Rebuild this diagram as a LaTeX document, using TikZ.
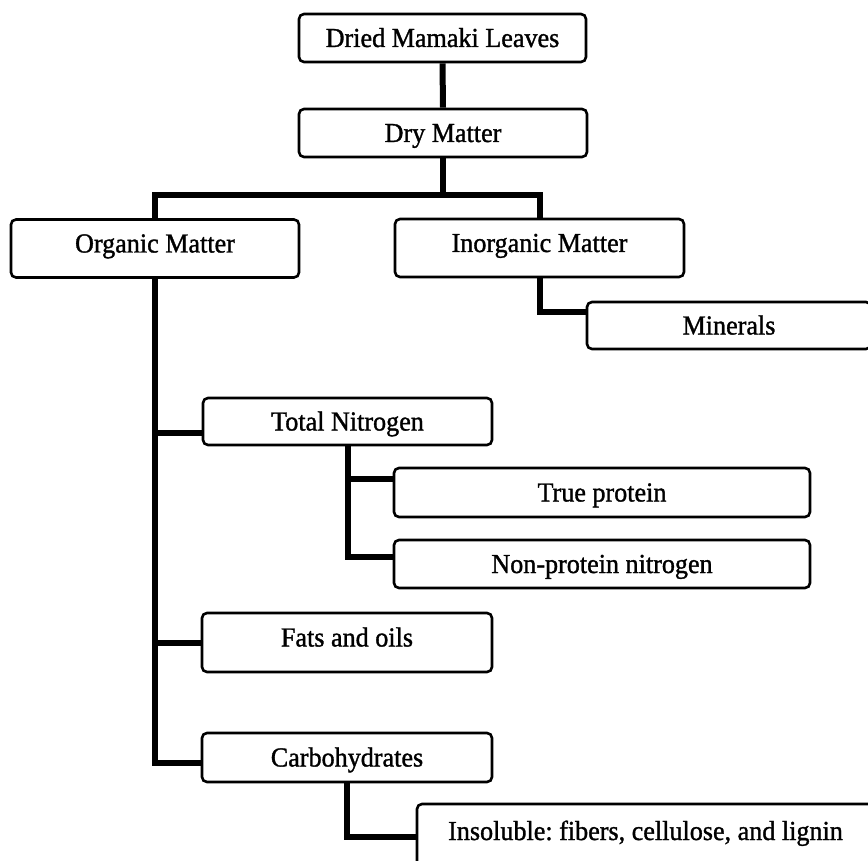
\documentclass[tikz,border=0pt]{standalone}
\usepackage{fontspec}
\setmainfont{Liberation Serif}[FakeBold=1.2, FakeStretch=0.95]
\usetikzlibrary{calc}
\frenchspacing
\begin{document}
\begin{tikzpicture}[x=1pt,y=-1pt,
  box/.style={draw, line width=2.6pt, rounded corners=5pt, inner sep=0pt,
    font=\fontsize{27.5}{31}\selectfont, text height=18pt, text depth=0pt},
  raised/.style={text depth=10pt},
  conn/.style={line width=6pt, line cap=butt, line join=miter}]
\useasboundingbox (0,0) rectangle (868,861);
% boxes
\node[box, minimum width=287pt, minimum height=48pt] (dml) at (442.5,38) {Dried Mamaki Leaves};
\node[box, minimum width=288pt, minimum height=48pt] (dm) at (443,133) {Dry Matter};
\node[box, raised, minimum width=288pt, minimum height=58pt] (om) at (155,248.5) {Organic Matter};
\node[box, raised, minimum width=289pt, minimum height=58pt] (im) at (539.5,248) {Inorganic Matter};
\node[box, minimum width=284pt, minimum height=47pt] (min) at (729,325.5) {Minerals};
\node[box, minimum width=289pt, minimum height=47pt] (tn) at (347.5,421.5) {Total Nitrogen};
\node[box, minimum width=416pt, minimum height=49pt] (tp) at (602,492.5) {True protein};
\node[box, minimum width=416pt, minimum height=48pt] (np) at (602,564) {Non-protein nitrogen};
\node[box, raised, minimum width=290pt, minimum height=59pt] (fo) at (347,642.5) {Fats and oils};
\node[box, minimum width=290pt, minimum height=49pt] (ca) at (347,757.5) {Carbohydrates};
\node[box, text depth=12pt, minimum width=457pt, minimum height=66pt] (ins) at (645.5,837) {Insoluble: fibers, cellulose, and lignin};
% connectors
\draw[conn] (dml.south) -- (dm.north);
\draw[conn] (dm.south) -- (443,195);
\draw[conn] (om.north) |- (im.north |- 0,195) -- (im.north);
\draw[conn] (im.south) |- ($(min.west)+(0,-13.5)$);
\draw[conn] (om.south) |- ($(ca.west)+(0,5.5)$);
\draw[conn] (om.south |- 0,433) -- ($(tn.west)+(0,11.5)$);
\draw[conn] (om.south |- fo.west) -- (fo.west);
\draw[conn] (tn.south) |- ($(np.west)+(0,-7)$);
\draw[conn] (tn.south |- 0,479) -- ($(tp.west)+(0,-13.5)$);
\draw[conn] (ca.south) |- (ins.west);
\end{tikzpicture}
\end{document}
